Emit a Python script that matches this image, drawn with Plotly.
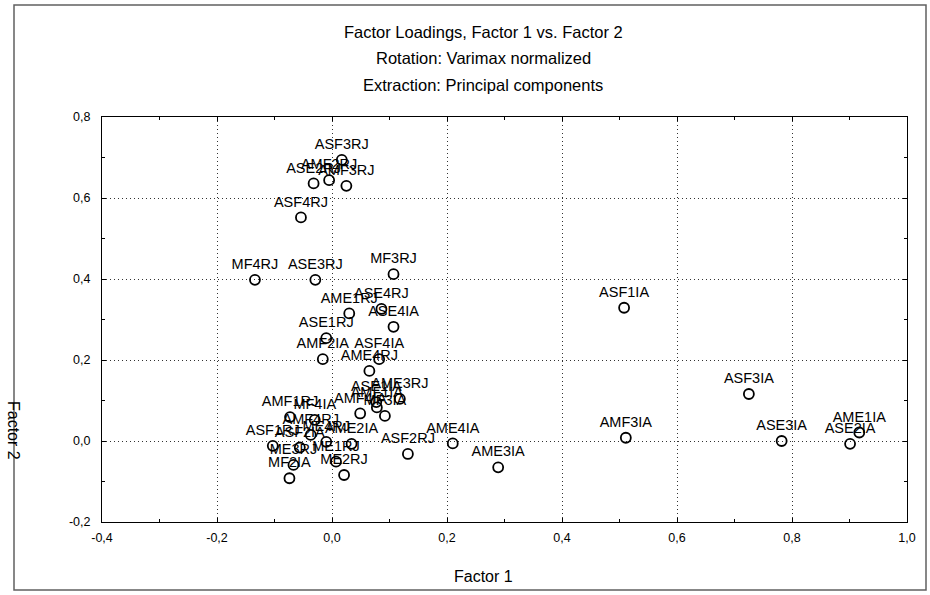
import plotly.graph_objects as go

# ---- data ----
labels = [
    "ASF3RJ", "AMF2RJ", "ASE2RJ", "AMF3RJ", "ASF4RJ",
    "MF4RJ", "ASE3RJ", "MF3RJ", "ASE4RJ", "AME1RJ", "ASE4IA", "ASE1RJ",
    "AMF2IA", "ASF4IA", "AME4RJ",
    "AME3RJ", "ASE1IA", "AMF1IA", "AMF4IA", "MF3IA",
    "AMF1RJ", "MF4IA", "AMF4RJ", "ME4RJ", "ASF1RJ", "ASF2IA", "AME2IA",
    "ME3RJ", "ME1RJ", "MF2IA", "ME2RJ",
    "ASF2RJ", "AME4IA", "AME3IA",
    "ASF1IA", "ASF3IA", "AMF3IA", "ASE3IA", "AME1IA", "ASE2IA",
]
factor1 = [
    0.017, -0.005, -0.032, 0.025, -0.054,
    -0.134, -0.029, 0.107, 0.086, 0.030, 0.107, -0.010,
    -0.016, 0.082, 0.065,
    0.118, 0.077, 0.078, 0.049, 0.092,
    -0.073, -0.030, -0.037, -0.010, -0.103, -0.056, 0.034,
    -0.067, 0.007, -0.074, 0.021,
    0.132, 0.210, 0.289,
    0.508, 0.725, 0.511, 0.782, 0.917, 0.901,
]
factor2 = [
    0.694, 0.644, 0.636, 0.630, 0.552,
    0.398, 0.398, 0.412, 0.326, 0.315, 0.282, 0.254,
    0.202, 0.202, 0.173,
    0.104, 0.096, 0.083, 0.068, 0.062,
    0.059, 0.052, 0.015, -0.002, -0.012, -0.016, -0.007,
    -0.059, -0.051, -0.092, -0.084,
    -0.032, -0.006, -0.065,
    0.329, 0.116, 0.008, 0.000, 0.021, -0.007,
]
x_tick_vals = [-0.4, -0.2, 0.0, 0.2, 0.4, 0.6, 0.8, 1.0]
x_tick_text = ["-0,4", "-0,2", "0,0", "0,2", "0,4", "0,6", "0,8", "1,0"]
y_tick_vals = [-0.2, 0.0, 0.2, 0.4, 0.6, 0.8]
y_tick_text = ["-0,2", "0,0", "0,2", "0,4", "0,6", "0,8"]
title_lines = [
    "Factor Loadings, Factor 1 vs. Factor 2",
    "Rotation: Varimax normalized",
    "Extraction: Principal components",
]

FONT = "Liberation Sans, Arial, sans-serif"
W, H = 930, 595
L, R, T, B = 102, 907, 117, 522   # plot area in pixels


def px_x(p):
    return (p - L) / (R - L)


def px_y(p):
    return (B - p) / (B - T)


fig = go.Figure()
fig.add_trace(go.Scatter(
    x=factor1, y=factor2, text=labels,
    mode="markers+text",
    textposition="top center",
    textfont=dict(family=FONT, size=14.5, color="black"),
    marker=dict(symbol="circle-open", size=10, color="black",
                line=dict(width=1.8, color="black")),
    cliponaxis=False,
    showlegend=False,
    hoverinfo="text",
))

axis_common = dict(
    showline=True, linecolor="black", linewidth=1, mirror="ticks",
    ticks="inside", ticklen=4, tickcolor="black", tickwidth=1,
    showgrid=True, gridcolor="#333333", griddash="1px,3px", gridwidth=1,
    zeroline=False,
    tickfont=dict(family=FONT, size=12.5, color="black"),
    minor=dict(dtick=0.1, ticks="inside", ticklen=3, tickcolor="black",
               showgrid=False),
)

fig.update_xaxes(range=[-0.4, 1.0], tickmode="array",
                 tickvals=x_tick_vals, ticktext=x_tick_text,
                 ticklabelstandoff=4, **axis_common)
fig.update_yaxes(range=[-0.2, 0.8], tickmode="array",
                 tickvals=y_tick_vals, ticktext=y_tick_text,
                 ticklabelstandoff=8, **axis_common)

annotations = []
for txt, py in zip(title_lines, [32, 58, 85]):
    annotations.append(dict(
        text=txt, x=px_x(483), y=px_y(py), xref="paper", yref="paper",
        xanchor="center", yanchor="middle", showarrow=False,
        font=dict(family=FONT, size=16.5, color="black")))
annotations.append(dict(
    text="Factor 1", x=px_x(483), y=px_y(576), xref="paper", yref="paper",
    xanchor="center", yanchor="middle", showarrow=False,
    font=dict(family=FONT, size=16, color="black")))
annotations.append(dict(
    text="Factor 2", x=px_x(14), y=px_y(430), xref="paper", yref="paper",
    xanchor="center", yanchor="middle", showarrow=False, textangle=90,
    font=dict(family=FONT, size=16, color="black")))

shapes = [dict(
    type="rect", xref="paper", yref="paper",
    x0=px_x(14), x1=px_x(926), y0=px_y(590), y1=px_y(5),
    line=dict(color="#606060", width=1.5), fillcolor="rgba(0,0,0,0)",
    layer="below")]

fig.update_layout(
    width=W, height=H,
    margin=dict(l=L, r=W - R, t=T, b=H - B),
    paper_bgcolor="white", plot_bgcolor="white",
    annotations=annotations, shapes=shapes,
    font=dict(family=FONT, color="black"),
)

fig.write_html("out.html")
